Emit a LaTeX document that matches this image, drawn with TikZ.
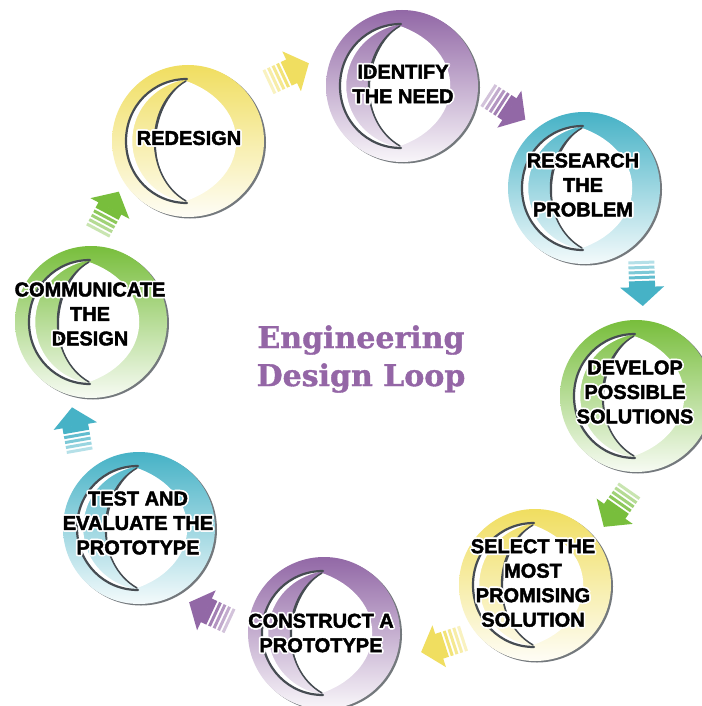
\documentclass[tikz,border=0pt]{standalone}
\usepackage{fontspec}
\newfontfamily\lblfont{Liberation Sans Bold}[FakeBold=2]
\newfontfamily\titlefont{DejaVu Serif Bold}[FakeBold=1.2]
\definecolor{cpurple}{RGB}{146,104,166}
\definecolor{cteal}{RGB}{70,178,198}
\definecolor{cgreen}{RGB}{120,190,60}
\definecolor{cyellow}{RGB}{240,222,96}
\definecolor{ringedge}{RGB}{70,76,82}
\definecolor{titlepurple}{RGB}{148,102,166}
\newsavebox\halobox
\newcommand\hc[2]{\rlap{\hspace*{#1}\raisebox{#2}{\usebox\halobox}}}
\newcommand\halo[1]{%
  \sbox\halobox{\color{white}\begin{tabular}{@{}c@{}}#1\end{tabular}}%
  \hc{1.7pt}{0pt}\hc{-1.7pt}{0pt}\hc{0pt}{1.7pt}\hc{0pt}{-1.7pt}%
  \hc{1.2pt}{1.2pt}\hc{-1.2pt}{1.2pt}\hc{1.2pt}{-1.2pt}\hc{-1.2pt}{-1.2pt}%
  \begin{tabular}{@{}c@{}}#1\end{tabular}}
\tikzset{
  lbl/.style={font=\lblfont\fontsize{20}{24.5}\selectfont, inner sep=0pt},
  ttl/.style={font=\titlefont\fontsize{30}{38}\selectfont, text=titlepurple, inner sep=0pt, align=center},
  ringline/.style={draw=ringedge, line cap=round},
}
\newcommand\ringdraw[3]{%
  \begin{scope}[shift={(#1,#2)}]
    \fill[ringedge!75] (2,1.5) circle (76);
    \shade[top color=#3, bottom color=#3!6!white] (0,0) circle (76);
    \fill[white] (-1,-62) .. controls (-35,-62) and (-62,-35) .. (-62,0)
      .. controls (-62,35) and (-35,62) .. (-1,62)
      .. controls (-74,48) and (-74,-48) .. cycle;
    \fill[white] (-2,-60) .. controls (-44,-36) and (-44,36) .. (-2,60)
      .. controls (65,36) and (65,-36) .. cycle;
    \draw[ringline, line width=2.2] (-1,-62) .. controls (-35,-62) and (-62,-35) .. (-62,0)
      .. controls (-62,35) and (-35,62) .. (-1,62);
    \fill[ringedge] (-2,-60) .. controls (-44,-36) and (-44,36) .. (-2,60)
      .. controls (-44,36) and (-40,-34) .. cycle;
    \draw[ringline, line width=1.5] (-2,-60) .. controls (-44,-36) and (-44,36) .. (-2,60);
  \end{scope}}
\newcommand\striparrow[4]{%
  \begin{scope}[shift={(#1,#2)}, rotate=#3, shift={(4,0)}]
    \fill[#4] (0,-22) -- (19,0) -- (0,22) -- cycle;
    \fill[#4] (-6,-13) rectangle (0.5,13);
    \fill[#4!85!white] (-11,-13) rectangle (-8,13);
    \fill[#4!70!white] (-16,-13) rectangle (-13,13);
    \fill[#4!55!white] (-21,-13) rectangle (-18,13);
    \fill[#4!40!white] (-26,-13) rectangle (-23,13);
  \end{scope}}
\begin{document}
\begin{tikzpicture}[x=1pt,y=-1pt]
  \fill[white] (0,0) rectangle (701,706);
  \useasboundingbox (0,0) rectangle (701,706);
  % rings
  \ringdraw{402}{86}{cpurple}
  \ringdraw{584}{188}{cteal}
  \ringdraw{636}{396}{cgreen}
  \ringdraw{535}{585}{cyellow}
  \ringdraw{324}{633}{cpurple}
  \ringdraw{139}{528}{cteal}
  \ringdraw{91}{322}{cgreen}
  \ringdraw{188}{141}{cyellow}
  % arrows
  \striparrow{506}{107}{-33}{cpurple}
  \striparrow{642}{283}{-88}{cteal}
  \striparrow{617}{508}{-125}{cgreen}
  \striparrow{443}{645}{-162}{cyellow}
  \striparrow{210}{612}{155}{cpurple}
  \striparrow{76}{430}{100}{cteal}
  \striparrow{108}{212}{62}{cgreen}
  \striparrow{288}{73}{25}{cyellow}
  % labels
  \node[lbl] (identify) at (403,86) {\halo{IDENTIFY\\THE NEED}};
  \node[lbl] (research) at (583,187) {\halo{RESEARCH\\THE\\PROBLEM}};
  \node[lbl] (develop) at (635,394) {\halo{DEVELOP\\POSSIBLE\\SOLUTIONS}};
  \node[lbl] (select) at (533,585) {\halo{SELECT THE\\MOST\\PROMISING\\SOLUTION}};
  \node[lbl] (construct) at (321,635) {\halo{CONSTRUCT A\\PROTOTYPE}};
  \node[lbl] (test) at (138,525) {\halo{TEST AND\\EVALUATE THE\\PROTOTYPE}};
  \node[lbl] (communicate) at (90,316) {\halo{COMMUNICATE\\THE\\DESIGN}};
  \node[lbl] (redesign) at (189,140) {\halo{REDESIGN}};
  % title
  \node[ttl] (title) at (361,359) {Engineering\\Design Loop};
\end{tikzpicture}
\end{document}
